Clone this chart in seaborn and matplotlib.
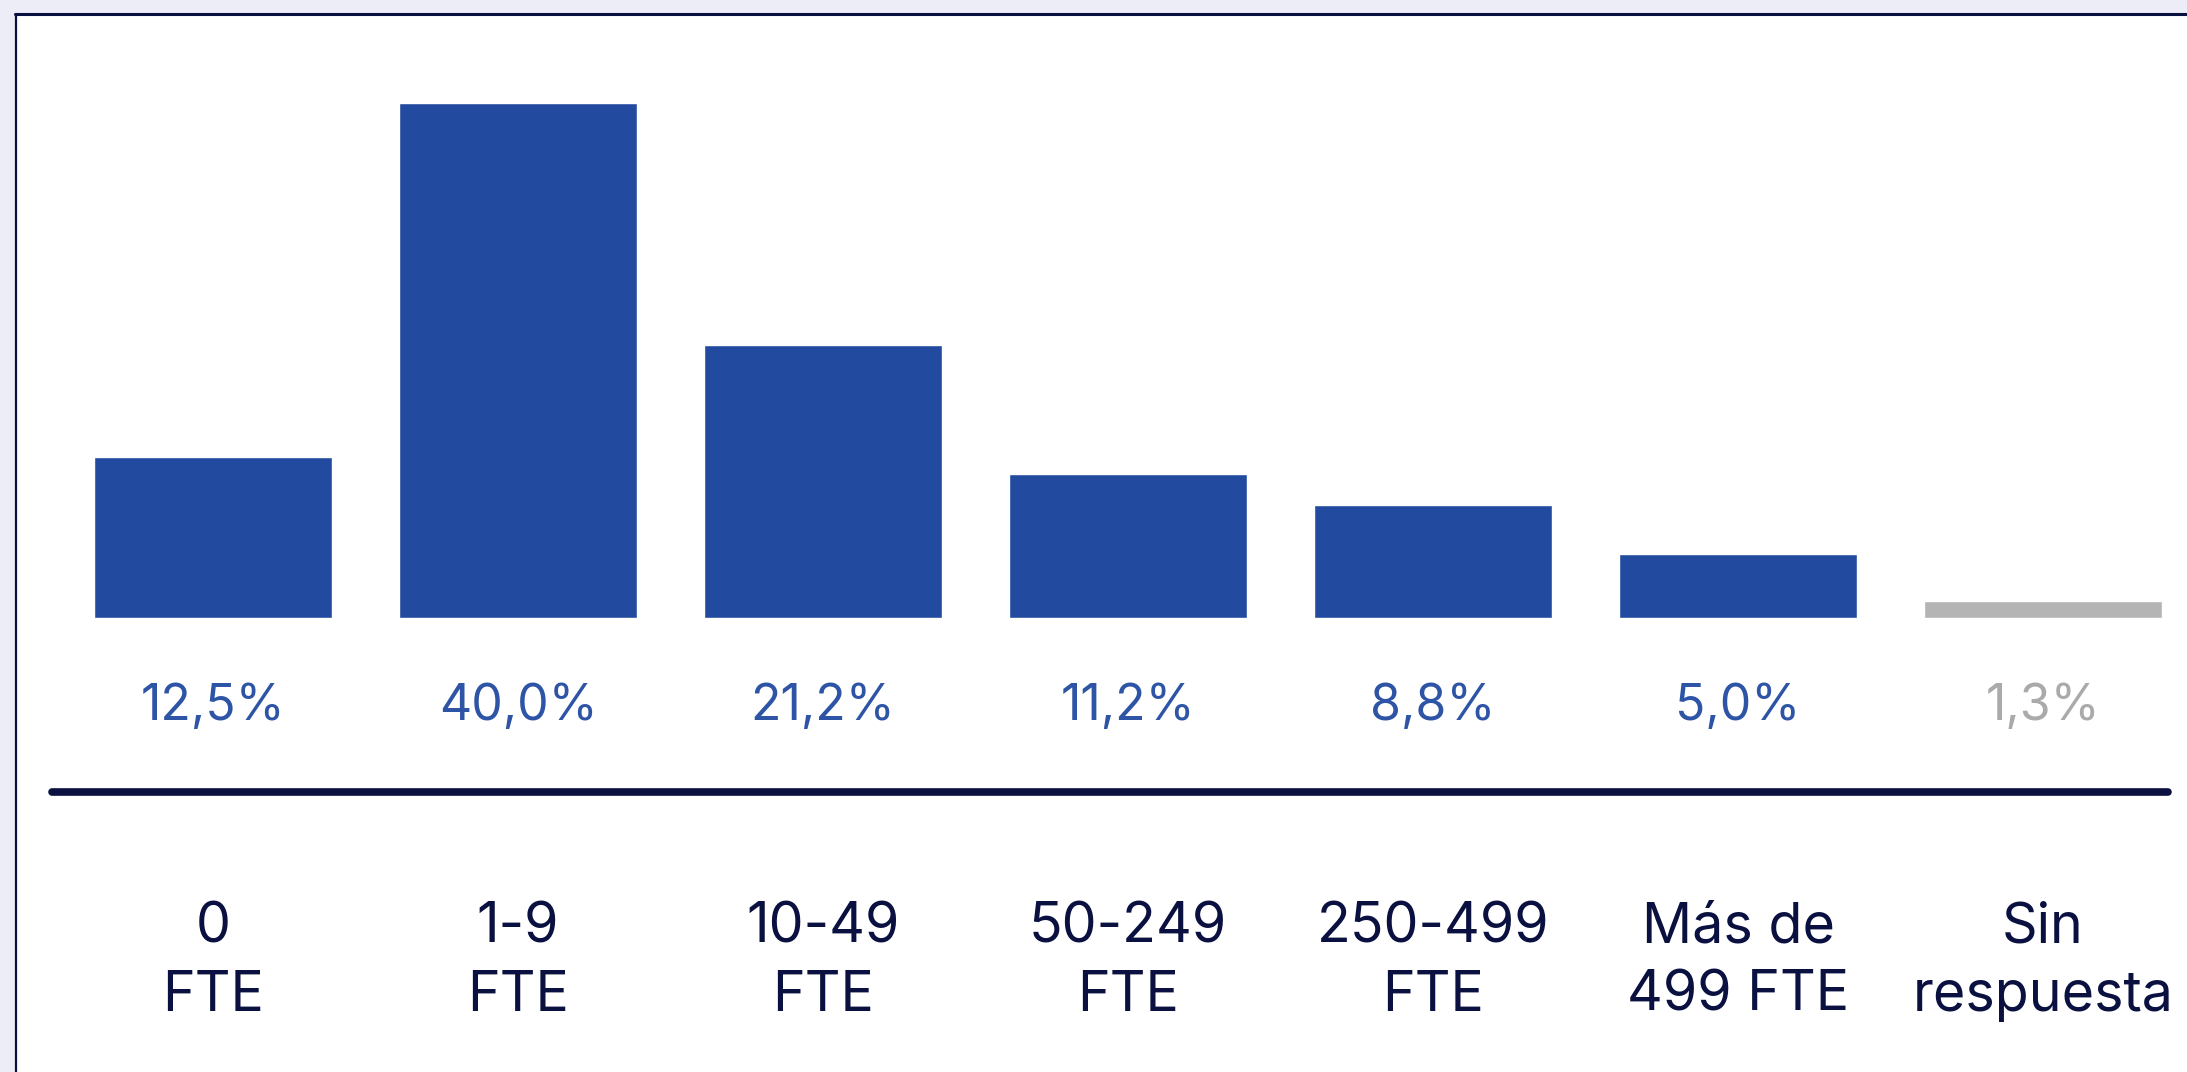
import numpy as np
import pandas as pd
import seaborn as sns
import matplotlib.pyplot as plt
from matplotlib.patches import Rectangle
from matplotlib.lines import Line2D

categories = ["0\nFTE", "1-9\nFTE", "10-49\nFTE", "50-249\nFTE",
              "250-499\nFTE", "Más de\n499 FTE", "Sin\nrespuesta"]
values = [12.5, 40.0, 21.2, 11.2, 8.8, 5.0, 1.3]
labels = ["12,5%", "40,0%", "21,2%", "11,2%", "8,8%", "5,0%", "1,3%"]

blue = "#224B9F"
grey = "#B4B4B4"
navy = "#0A1140"
bar_colors = [blue] * 6 + [grey]
text_colors = ["#2E54A6"] * 6 + ["#AAAAAA"]

df = pd.DataFrame({"cat": categories, "val": values})

sns.set_theme(style="white")
plt.rcParams["font.family"] = ["Inter", "DejaVu Sans"]

W, H = 2187, 1072
fig = plt.figure(figsize=(W / 100, H / 100), dpi=100)
fig.patch.set_facecolor("#EDEDF8")

# white panel with dark border on top and left
fig.add_artist(Rectangle((15 / W, 0), 1, 1 - 14 / H, transform=fig.transFigure,
                         facecolor="white", edgecolor="none", zorder=0))
fig.add_artist(Line2D([15 / W, 1], [1 - 14 / H, 1 - 14 / H], transform=fig.transFigure,
                      color=navy, lw=2.2, zorder=1))
fig.add_artist(Line2D([15.5 / W, 15.5 / W], [0, 1 - 14 / H], transform=fig.transFigure,
                      color=navy, lw=1.6, zorder=1))

ax = fig.add_axes([0, 0, 1, 1])
ax.set_facecolor("none")

sns.barplot(data=df, x="cat", y="val", hue="cat", palette=bar_colors,
            legend=False, width=0.78, saturation=1, ax=ax)

xmin = -213 / 305
ax.set_xlim(xmin, xmin + W / 305)
ymin = -454 / 12.875
ax.set_ylim(ymin, ymin + H / 12.875)
ax.axis("off")

for i, (lab, c) in enumerate(zip(labels, text_colors)):
    ax.text(i, -6.9, lab, ha="center", va="center", fontsize=36, color=c)
    ax.text(i, -26.7, categories[i], ha="center", va="center", fontsize=40,
            color=navy, linespacing=1.4)

ax.axhline(-13.5, xmin=52 / W, xmax=2168 / W, color=navy, lw=5.5)

fig.savefig("out.png", dpi=100)
